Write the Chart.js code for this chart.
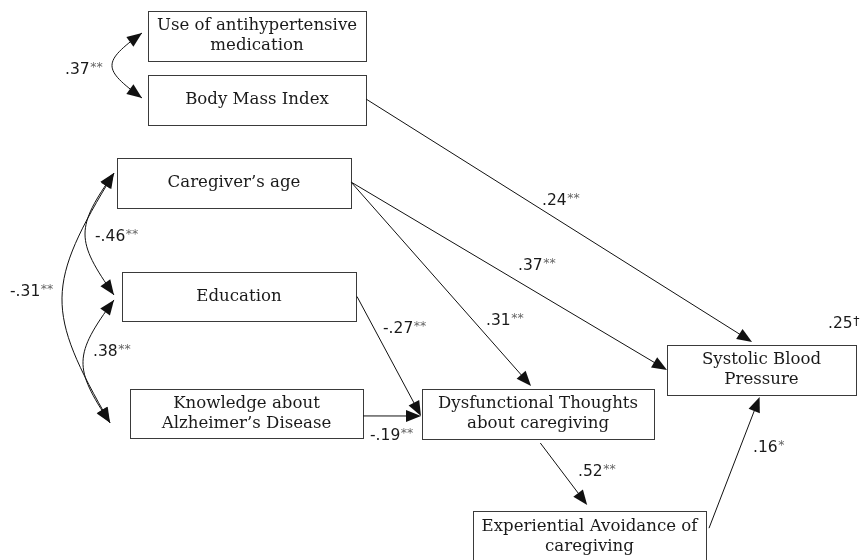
<!DOCTYPE html>
<html>
<head>
<meta charset="utf-8">
<script src="https://cdn.jsdelivr.net/npm/chart.js@4.4.1/dist/chart.umd.min.js"></script>
<style>
  html, body { margin: 0; padding: 0; background: #fff; }
  #wrap { width: 861px; height: 560px; }
</style>
</head>
<body>
<div id="wrap"><canvas id="diagram"></canvas></div>
<script>
// Variables in the path model
const nodeLabels = [
    ['Use of antihypertensive', 'medication'],
    ['Body Mass Index'],
    ['Caregiver\u2019s age'],
    ['Education'],
    ['Knowledge about', 'Alzheimer\u2019s Disease'],
    ['Dysfunctional Thoughts', 'about caregiving'],
    ['Systolic Blood', 'Pressure'],
    ['Experiential Avoidance of', 'caregiving']
];

// Direct paths (source -> target) with standardized coefficients
const pathFrom = [1, 2, 2, 3, 4, 5, 7];
const pathTo   = [6, 6, 5, 5, 5, 7, 6];
const pathCoef = ['.24', '.37', '.31', '-.27', '-.19', '.52', '.16'];
const pathSig  = ['**', '**', '**', '**', '**', '**', '*'];

// Correlations (double-headed curved arrows)
const corrA    = [0, 2, 3, 2];
const corrB    = [1, 3, 4, 4];
const corrCoef = ['.37', '-.46', '.38', '-.31'];
const corrSig  = ['**', '**', '**', '**'];

// Explained variance of the outcome
const r2Node = 6;
const r2Value = '.25';
const r2Sig = '\u2020';

// ---- layout (diagram units, origin top-left) ----
const boxLeft   = [148, 148, 117, 122, 130, 422, 667, 473];
const boxTop    = [11, 75, 158, 272, 389, 389, 345, 511];
const boxWidth  = [218, 218, 234, 234, 233, 232, 189, 233];
const boxHeight = [50, 50, 50, 49, 49, 50, 50, 52];

// anchor: [side, fraction along side, gap]
const pathStart = [['r', 0.48, 0], ['r', 0.48, 0], ['r', 0.48, 0], ['r', 0.5, 1], ['r', 0.55, 0], ['b', 0.51, 4], ['r', 0.33, 3]];
const pathEnd   = [['t', 0.45, 3], ['l', 0.5, 0], ['t', 0.47, 3], ['l', 0.54, 1], ['l', 0.54, 1], ['t', 0.49, 6], ['b', 0.49, 2]];
const pathLabelX = [542, 518, 486, 383, 370, 578, 753];
const pathLabelY = [201, 266, 321, 329, 436, 472, 448];

const corrEndA  = [['l', 0.44, 6], ['l', 0.3, 3], ['l', 0.57, 8], ['l', 0.3, 3]];
const corrEndB  = [['l', 0.46, 6], ['l', 0.47, 8], ['l', 0.69, 20], ['l', 0.69, 20]];
const corrBulge = [112, 85, 83, 62];
const corrLabelX = [65, 95, 93, 10];
const corrLabelY = [70, 237, 352, 292];

const r2LabelX = 828;
const r2LabelY = 324;

// Node centres, fed to the chart as invisible points
const nodeCenters = nodeLabels.map(function(l, i) {
    return { x: boxLeft[i] + boxWidth[i] / 2, y: boxTop[i] + boxHeight[i] / 2 };
});

function anchor(i, a) {
    const side = a[0], f = a[1], gap = a[2];
    if (side === 'l') return { x: boxLeft[i] - gap, y: boxTop[i] + f * boxHeight[i] };
    if (side === 'r') return { x: boxLeft[i] + boxWidth[i] + gap, y: boxTop[i] + f * boxHeight[i] };
    if (side === 't') return { x: boxLeft[i] + f * boxWidth[i], y: boxTop[i] - gap };
    return { x: boxLeft[i] + f * boxWidth[i], y: boxTop[i] + boxHeight[i] + gap };
}

const NODE_FONT = '16.6px "DejaVu Serif", serif';
const COEF_FONT = '15.5px "DejaVu Sans", sans-serif';
const SIG_FONT = '12.5px "DejaVu Sans", sans-serif';
const HEAD_LEN = 15;
const HEAD_HALF = 6;

// Filled arrowhead with its tip at (x, y), pointing along (dx, dy)
function arrowHead(ctx, x, y, dx, dy) {
    const len = Math.hypot(dx, dy);
    const ux = dx / len, uy = dy / len;
    const bx = x - ux * HEAD_LEN, by = y - uy * HEAD_LEN;
    ctx.beginPath();
    ctx.moveTo(x, y);
    ctx.lineTo(bx - uy * HEAD_HALF, by + ux * HEAD_HALF);
    ctx.lineTo(bx + uy * HEAD_HALF, by - ux * HEAD_HALF);
    ctx.closePath();
    ctx.fill();
}

function coefLabel(ctx, x, y, value, sig) {
    ctx.textAlign = 'left';
    ctx.textBaseline = 'middle';
    ctx.font = COEF_FONT;
    ctx.fillStyle = '#1a1a1a';
    ctx.fillText(value, x, y);
    const w = ctx.measureText(value).width;
    ctx.font = SIG_FONT;
    ctx.fillStyle = sig === '\u2020' ? '#1a1a1a' : '#666';
    ctx.fillText(sig, x + w + 0.5, y - 2);
}

const pathDiagram = {
    id: 'pathDiagram',
    afterDatasetsDraw(chart) {
        const ctx = chart.ctx;
        const xs = chart.scales.x, ys = chart.scales.y;
        const P = function(p) { return { x: xs.getPixelForValue(p.x), y: ys.getPixelForValue(p.y) }; };

        ctx.save();

        // Boxes and their labels
        nodeLabels.forEach(function(lines, i) {
            const tl = P({ x: boxLeft[i], y: boxTop[i] });
            const br = P({ x: boxLeft[i] + boxWidth[i], y: boxTop[i] + boxHeight[i] });
            ctx.strokeStyle = '#3a3a3a';
            ctx.lineWidth = 1;
            ctx.strokeRect(Math.round(tl.x) + 0.5, Math.round(tl.y) + 0.5, Math.round(br.x - tl.x), Math.round(br.y - tl.y));

            const c = P(nodeCenters[i]);
            ctx.font = NODE_FONT;
            ctx.fillStyle = '#1a1a1a';
            ctx.textAlign = 'center';
            ctx.textBaseline = 'middle';
            const lh = 20;
            lines.forEach(function(t, k) {
                ctx.fillText(t, c.x, c.y + (k - (lines.length - 1) / 2) * lh);
            });
        });

        ctx.strokeStyle = '#111';
        ctx.fillStyle = '#111';
        ctx.lineWidth = 1;

        // Direct paths
        pathFrom.forEach(function(from, i) {
            const a = P(anchor(from, pathStart[i]));
            const b = P(anchor(pathTo[i], pathEnd[i]));
            const dx = b.x - a.x, dy = b.y - a.y;
            const len = Math.hypot(dx, dy);
            ctx.beginPath();
            ctx.moveTo(a.x, a.y);
            ctx.lineTo(b.x - dx / len * (HEAD_LEN - 2), b.y - dy / len * (HEAD_LEN - 2));
            ctx.stroke();
            arrowHead(ctx, b.x, b.y, dx, dy);
        });

        // Correlations
        corrA.forEach(function(na, i) {
            const a = P(anchor(na, corrEndA[i]));
            const b = P(anchor(corrB[i], corrEndB[i]));
            const bulge = xs.getPixelForValue(corrBulge[i]);
            const k = 0.45 * (b.y - a.y);
            const cx = (bulge - 0.125 * (a.x + b.x)) / 0.75;
            const c1 = { x: cx, y: a.y + k }, c2 = { x: cx, y: b.y - k };
            ctx.beginPath();
            ctx.moveTo(a.x, a.y);
            ctx.bezierCurveTo(c1.x, c1.y, c2.x, c2.y, b.x, b.y);
            ctx.stroke();
            arrowHead(ctx, a.x, a.y, a.x - c1.x, a.y - c1.y);
            arrowHead(ctx, b.x, b.y, b.x - c2.x, b.y - c2.y);
        });

        // Coefficient labels
        pathCoef.forEach(function(v, i) {
            const p = P({ x: pathLabelX[i], y: pathLabelY[i] });
            coefLabel(ctx, p.x, p.y, v, pathSig[i]);
        });
        corrCoef.forEach(function(v, i) {
            const p = P({ x: corrLabelX[i], y: corrLabelY[i] });
            coefLabel(ctx, p.x, p.y, v, corrSig[i]);
        });
        const r = P({ x: r2LabelX, y: r2LabelY });
        coefLabel(ctx, r.x, r.y, r2Value, r2Sig);

        ctx.restore();
    }
};

new Chart(document.getElementById('diagram').getContext('2d'), {
    type: 'scatter',
    data: {
        datasets: [{
            data: nodeCenters,
            pointRadius: 0,
            pointHoverRadius: 0
        }]
    },
    options: {
        responsive: true,
        maintainAspectRatio: false,
        animation: false,
        events: [],
        layout: { padding: 0 },
        scales: {
            x: { type: 'linear', min: 0, max: 861, display: false },
            y: { type: 'linear', min: 0, max: 560, reverse: true, display: false }
        },
        plugins: {
            legend: { display: false },
            tooltip: { enabled: false }
        }
    },
    plugins: [pathDiagram]
});
</script>
</body>
</html>
